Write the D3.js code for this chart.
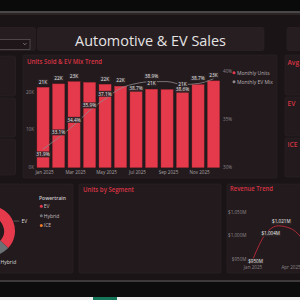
<!DOCTYPE html>
<html><head><meta charset="utf-8">
<script src="https://cdn.jsdelivr.net/npm/d3@7"></script>
<style>html,body{margin:0;padding:0;background:#1b1416;overflow:hidden}svg{display:block}</style>
</head><body><svg id="c" width="300" height="300"></svg>
<script>
// ---------- DATA ----------
const months = ["Jan 2025","Feb 2025","Mar 2025","Apr 2025","May 2025","Jun 2025","Jul 2025","Aug 2025","Sep 2025","Oct 2025","Nov 2025","Dec 2025"];
const monthlyUnits = [21300,22200,22800,22600,22100,21600,20600,20800,20700,20600,22000,23000];
const monthlyEvMix = [31.9,33.1,34.4,35.9,37.1,38.2,38.7,38.9,38.9,38.6,38.7,39.2];
const unitTicks = [0,10000,20000];
const mixTicks = [30,35,40];
const xTickMonths = ["Jan 2025","Mar 2025","May 2025","Jul 2025","Sep 2025","Nov 2025"];
const legendItems = ["Monthly Units","Monthly EV Mix"];
const powertrains = ["EV","Hybrid","ICE"];
const powertrainShare = [37,18,45];
const revenueMonths = ["Jan 2025","Feb 2025","Mar 2025","Apr 2025","May 2025"];
const revenueM = [950,1004,1021,1015,990];
const revenueTicks = [950,1000,1050];
const revenueXTicks = ["Jan 2025","Apr 2025"];
const kpiTitles = ["Avg","EV","ICE"];
// label display (1 = below, -1 = above, 0 = hidden)
const unitLabelShown = [1,1,1,0,1,1,0,1,0,1,0,1];
const mixLabelPos = [1,-1,-1,-1,-1,0,1,-1,0,1,-1,0];
const revLabelShown = [1,1,1,0,0];

// ---------- STYLE ----------
const RED = "#e53a4b", TITLE_RED = "#d93444", PANEL = "#231a1d", PANEL_STROKE = "#2d2427";
const svg = d3.select("#c");
const FONT = "'Open Sans', 'Noto Sans', sans-serif";

// background bands
svg.append("rect").attr("x",0).attr("y",0).attr("width",300).attr("height",300).attr("fill","#1b1416");
svg.append("rect").attr("x",0).attr("y",0).attr("width",300).attr("height",11).attr("fill","#0b0a0a");
svg.append("rect").attr("x",0).attr("y",11).attr("width",300).attr("height",2).attr("fill","#4b4748");
svg.append("rect").attr("x",0).attr("y",13).attr("width",300).attr("height",2).attr("fill","#2a2425");
svg.append("rect").attr("x",0).attr("y",280).attr("width",300).attr("height",2).attr("fill","#3e3a3b");
svg.append("rect").attr("x",0).attr("y",282).attr("width",300).attr("height",15).attr("fill","#0d0c0c");
svg.append("rect").attr("x",0).attr("y",297).attr("width",300).attr("height",3).attr("fill","#eeeeee");
svg.append("rect").attr("x",93).attr("y",297).attr("width",24).attr("height",3).attr("fill","#17775b");

// panels
const panels = [
  [-5,27.5,40.5,23,"#261d20"],[37.5,27.5,226.5,23,"#271e21"],[287,27.5,20,23,"#261d20"],
  [-5,56,20.5,40,PANEL],[-5,98,20.5,39,PANEL],[-5,139,20.5,36,PANEL],
  [23,55,254,123,PANEL],
  [285,55,20,40,PANEL],[285,97,20,39,PANEL],[285,138,20,39,PANEL],
  [-5,184,78,89,PANEL],[79,184,142,89,PANEL],[227,184,80,89,PANEL]
];
svg.selectAll("rect.panel").data(panels).join("rect").attr("class","panel")
  .attr("x",d=>d[0]).attr("y",d=>d[1]).attr("width",d=>d[2]).attr("height",d=>d[3])
  .attr("rx",2).attr("fill",d=>d[4]).attr("stroke",PANEL_STROKE).attr("stroke-width",0.6);

// slicer dropdown
svg.append("rect").attr("x",-2).attr("y",39.5).attr("width",32).attr("height",10)
  .attr("fill","#1e1618").attr("stroke","#6a6466").attr("stroke-width",0.6);
svg.append("path").attr("d","M23.3,43.2 L24.8,44.7 L26.3,43.2").attr("fill","none").attr("stroke","#bbb").attr("stroke-width",0.6);

// main title
svg.append("text").attr("x",75).attr("y",45.5).attr("font-family",FONT).attr("font-size",14)
  .attr("fill","#e6e3e4").attr("textLength",151).attr("lengthAdjust","spacingAndGlyphs").text("Automotive & EV Sales");

function title(x,y,txt,len,size){
  return svg.append("text").attr("x",x).attr("y",y).attr("font-family",FONT).attr("font-size",size||6.5)
    .attr("font-weight",600).attr("fill",TITLE_RED).attr("textLength",len).attr("lengthAdjust","spacingAndGlyphs").text(txt);
}
title(27,64.3,"Units Sold & EV Mix Trend",75);
title(83,191.5,"Units by Segment",51);
title(230,191.3,"Revenue Trend",43);
// right KPI titles
svg.selectAll("text.kpi").data(kpiTitles).join("text").attr("class","kpi")
  .attr("x",287.5).attr("y",(d,i)=>[65.3,106,146.5][i]).attr("font-family",FONT).attr("font-size",6.6)
  .attr("font-weight",600).attr("fill",TITLE_RED).text(d=>d);

// ---------- UNITS SOLD & EV MIX ----------
const x = d3.scaleBand().domain(months).range([35.3,221.3]).paddingInner(0.22).paddingOuter(0.11);
const yU = d3.scaleLinear().domain([0,20000]).range([167.5,92.2]);
const yM = d3.scaleLinear().domain([30,40]).range([167.5,71]);

const gAxis = svg.append("g").attr("font-family",FONT).attr("font-size",4.6).attr("fill","#8d8789");
gAxis.selectAll("text.yl").data(unitTicks).join("text").attr("class","yl")
  .attr("x",34).attr("y",d=>yU(d)+1.6).attr("text-anchor","end").text(d=>d3.format("d")(d/1000)+"K");
gAxis.selectAll("text.yr").data(mixTicks).join("text").attr("class","yr")
  .attr("x",223).attr("y",d=>yM(d)+1.6).text(d=>d+"%");
gAxis.selectAll("text.xl").data(xTickMonths).join("text").attr("class","xl")
  .attr("x",d=>x(d)+x.bandwidth()/2+1.5).attr("y",174.2).attr("text-anchor","middle").attr("fill","#a9a3a5").text(d=>d);

svg.selectAll("rect.bar").data(months).join("rect").attr("class","bar")
  .attr("x",d=>x(d)).attr("width",x.bandwidth())
  .attr("y",(d,i)=>yU(monthlyUnits[i])).attr("height",(d,i)=>yU(0)-yU(monthlyUnits[i]))
  .attr("fill",RED).attr("stroke","#b82a38").attr("stroke-width",0.4);

const line = d3.line().x((d,i)=>x(months[i])+x.bandwidth()/2).y(d=>yM(d)).curve(d3.curveMonotoneX);
svg.append("path").datum(monthlyEvMix).attr("d",line).attr("fill","none").attr("stroke","#8f8a8c").attr("stroke-width",0.8);

function boxLabel(g,cx,cy,txt,size){
  const t = g.append("text").attr("x",cx).attr("y",cy+size*0.36).attr("text-anchor","middle")
    .attr("font-family",FONT).attr("font-size",size).attr("fill","#ecebeb").text(txt);
  const w = t.node().getComputedTextLength();
  g.insert("rect","text:last-child").attr("x",cx-w/2-1.2).attr("y",cy-size*0.62).attr("width",w+2.4).attr("height",size*1.24)
    .attr("fill","#2b2325").attr("opacity",0.92);
}
const gLab = svg.append("g");
months.forEach((m,i)=>{
  if(unitLabelShown[i]){
    const g = gLab.append("g");
    boxLabel(g,x(m)+x.bandwidth()/2,yU(monthlyUnits[i])-5.5,d3.format("d")(Math.round(monthlyUnits[i]/1000))+"K",4.8);
  }
});
months.forEach((m,i)=>{
  if(mixLabelPos[i]){
    const g = gLab.append("g");
    boxLabel(g,x(m)+x.bandwidth()/2,yM(monthlyEvMix[i])+mixLabelPos[i]*5.2,monthlyEvMix[i].toFixed(1)+"%",4.8);
  }
});

// legend
const lg = svg.append("g").attr("font-family",FONT).attr("font-size",5).attr("fill","#b9b3b5");
lg.selectAll("circle").data(legendItems).join("circle").attr("cx",234).attr("cy",(d,i)=>72.8+i*9).attr("r",1.5)
  .attr("fill",(d,i)=>i?"#8f8a8c":RED);
lg.selectAll("text").data(legendItems).join("text").attr("x",237).attr("y",(d,i)=>74.6+i*9).text(d=>d);

// ---------- DONUT ----------
const pie = d3.pie().sort(null).value(d=>d)(powertrainShare);
const arc = d3.arc().innerRadius(14).outerRadius(25);
const dColors = [RED,"#6b7075","#f07a2a"];
const gd = svg.append("g").attr("transform","translate(-10,231)");
gd.selectAll("path").data(pie).join("path").attr("d",arc).attr("fill",(d,i)=>dColors[i]);
const evA = (pie[0].startAngle+pie[0].endAngle)/2;
const px = 25*Math.sin(evA), py = -25*Math.cos(evA);
gd.append("line").attr("x1",px+0.5).attr("y1",py).attr("x2",px+6.5).attr("y2",py).attr("stroke","#8f8a8c").attr("stroke-width",0.5);
gd.append("text").attr("x",px+8.5).attr("y",py+1.7).attr("font-family",FONT).attr("font-size",5).attr("fill","#dddada").text(powertrains[0]);
const hyA = (pie[1].startAngle+pie[1].endAngle)/2;
const hyLabel = gd.append("text").attr("y",-32*Math.cos(hyA)+2.4)
  .attr("font-family",FONT).attr("font-size",5).attr("fill","#dddada").text(powertrains[1]);
hyLabel.attr("x",10.6); // keep the whole label inside the panel's visible edge

const pl = svg.append("g").attr("font-family",FONT).attr("font-size",5);
pl.append("text").attr("x",39).attr("y",199.5).attr("font-weight",600).attr("fill","#cfc9cb").text("Powertrain");
pl.selectAll("circle").data(powertrains).join("circle").attr("cx",41.3).attr("cy",(d,i)=>206.2+i*9.6).attr("r",1.5).attr("fill",(d,i)=>dColors[i]);
pl.selectAll("text.it").data(powertrains).join("text").attr("class","it").attr("x",43.8).attr("y",(d,i)=>208+i*9.6).attr("fill","#c3bdbf").text(d=>d);

// ---------- REVENUE TREND ----------
const xr = d3.scalePoint().domain(revenueMonths).range([253,303.7]);
const yr = d3.scaleLinear().domain([950,1050]).range([259,212.3]);
const fmtM = v=>"$"+d3.format(",")(v)+"M";
const ra = svg.append("g").attr("font-family",FONT).attr("font-size",4.6).attr("fill","#8d8789");
ra.selectAll("text.y").data(revenueTicks).join("text").attr("class","y").attr("x",246.5).attr("y",d=>yr(d)+1.6).attr("text-anchor","end").text(fmtM);
ra.selectAll("text.x").data(revenueXTicks).join("text").attr("class","x").attr("x",d=>xr(d)).attr("y",268.8).attr("text-anchor","middle").text(d=>d);
const rline = d3.line().x((d,i)=>xr(revenueMonths[i])).y(d=>yr(d)).curve(d3.curveMonotoneX);
svg.append("path").datum(revenueM).attr("d",rline).attr("fill","none").attr("stroke","#c02a3a").attr("stroke-width",0.9);
const rl = svg.append("g");
revenueM.forEach((v,i)=>{
  if(revLabelShown[i]){
    const g = rl.append("g");
    boxLabel(g,xr(revenueMonths[i])+[2.5,5,3][i],yr(v)+[2,0,-4][i],fmtM(v),4.6);
  }
});
</script></body></html>
